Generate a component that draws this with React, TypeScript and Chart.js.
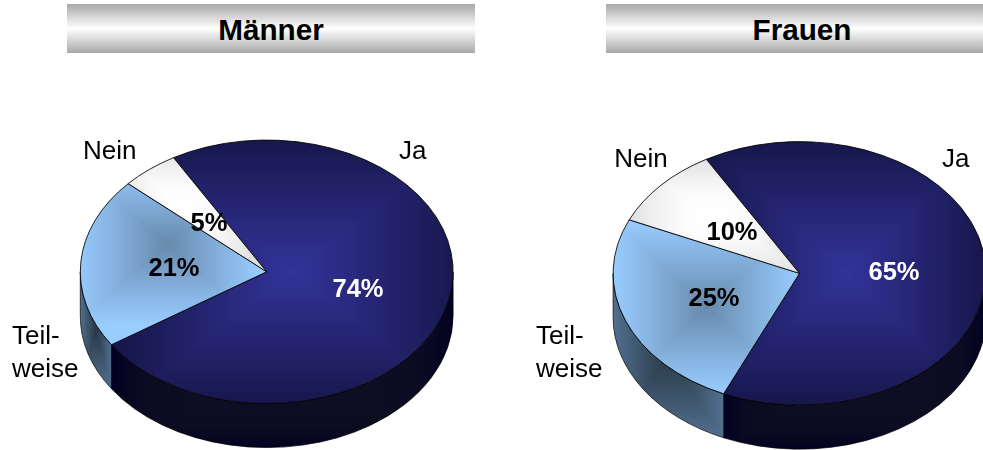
import React, { useEffect, useRef } from "react";
import { Chart, registerables } from "chart.js";

Chart.register(...registerables);

const categories = ["Ja", "Teilweise", "Nein"];
const maennerValues = [74, 21, 5];
const frauenValues = [65, 25, 10];
const maennerTitle = "Männer";
const frauenTitle = "Frauen";

const W = 983;
const H = 450;
const FONT = '"Liberation Sans", Arial, sans-serif';
const K = 0.707;
const RADIUS = 186.4;
const DEPTH = 44;
const ROTATION = -30;

const topCenter = ["#333399", "#6688AA", "#FFFFFF"];
const topEdge = ["#17174C", "#99CCFF", "#DFDFDF"];
const topCurve = [1, 0.9, 2];
const wallCenter = ["#0E0E22", "#2A3846", "#888888"];
const wallEdge = ["#000022", "#50708F", "#777777"];
const wallCurve = [6, 1, 1];
const valueColors = ["#FFFFFF", "#000000", "#000000"];

type Box = { x0: number; y0: number; x1: number; y1: number };
type TextPos = { x: number; y: number; align?: CanvasTextAlign };
type Shift = [number, number];

const hex = (c: string) => [1, 3, 5].map((i) => parseInt(c.slice(i, i + 2), 16));

function rectPattern(
  ctx: CanvasRenderingContext2D,
  b: Box,
  center: string,
  edge: string,
  curve = 1,
  shift: Shift = [0, 0],
) {
  const off = document.createElement("canvas");
  off.width = W;
  off.height = H;
  const octx = off.getContext("2d")!;
  const x0 = Math.max(0, Math.floor(b.x0) - 2);
  const y0 = Math.max(0, Math.floor(b.y0) - 2);
  const x1 = Math.min(W, Math.ceil(b.x1) + 2);
  const y1 = Math.min(H, Math.ceil(b.y1) + 2);
  const img = octx.createImageData(x1 - x0, y1 - y0);
  const cx = (b.x0 + b.x1) / 2 + shift[0];
  const cy = (b.y0 + b.y1) / 2 + shift[1];
  const hw = Math.max(1, (b.x1 - b.x0) / 2);
  const hh = Math.max(1, (b.y1 - b.y0) / 2);
  const c0 = hex(center);
  const c1 = hex(edge);
  for (let y = y0; y < y1; y++) {
    for (let x = x0; x < x1; x++) {
      const d = Math.min(1, Math.max(Math.abs(x + 0.5 - cx) / hw, Math.abs(y + 0.5 - cy) / hh));
      const t = Math.pow(d, curve);
      const i = ((y - y0) * (x1 - x0) + (x - x0)) * 4;
      img.data[i] = c0[0] + (c1[0] - c0[0]) * t;
      img.data[i + 1] = c0[1] + (c1[1] - c0[1]) * t;
      img.data[i + 2] = c0[2] + (c1[2] - c0[2]) * t;
      img.data[i + 3] = 255;
    }
  }
  octx.putImageData(img, x0, y0);
  return ctx.createPattern(off, "no-repeat")!;
}

function extremes(a0: number, a1: number) {
  const out = [a0, a1];
  for (let n = -4; n <= 8; n++) {
    const a = (n * Math.PI) / 2;
    if (a > a0 && a < a1) out.push(a);
  }
  return out;
}

function makePlugin(nameLabels: (TextPos & { text: string })[], valuePos: TextPos[], shifts: Shift[]) {
  return {
    id: "tiltedPie",
    beforeDatasetsDraw(chart: any) {
      const ctx: CanvasRenderingContext2D = chart.ctx;
      const arcs = chart.getDatasetMeta(0).data;
      const { x: cx, y: cy } = arcs[0];
      const r = arcs[0].outerRadius;
      const ry = r * K;
      // side walls, front half only
      arcs.forEach((arc: any, i: number) => {
        const a0 = Math.max(arc.startAngle, 0);
        const a1 = Math.min(arc.endAngle, Math.PI);
        if (a1 <= a0) return;
        const pts = extremes(a0, a1).map((a) => [cx + r * Math.cos(a), cy + ry * Math.sin(a)]);
        const xs = pts.map((p) => p[0]);
        const ys = pts.map((p) => p[1]);
        const box = {
          x0: Math.min(...xs),
          x1: Math.max(...xs),
          y0: Math.min(...ys),
          y1: Math.max(...ys) + DEPTH,
        };
        ctx.save();
        ctx.beginPath();
        ctx.ellipse(cx, cy, r, ry, 0, a0, a1);
        ctx.ellipse(cx, cy + DEPTH, r, ry, 0, a1, a0, true);
        ctx.closePath();
        ctx.fillStyle = rectPattern(ctx, box, wallCenter[i], wallEdge[i], wallCurve[i]);
        ctx.fill();
        ctx.strokeStyle = "#000000";
        ctx.lineWidth = 0.7;
        ctx.stroke();
        ctx.restore();
      });
      // top surface fill
      const inverse = new DOMMatrix().translate(cx, cy).scale(1, 1 / K).translate(-cx, -cy);
      arcs.forEach((arc: any, i: number) => {
        const pts = extremes(arc.startAngle, arc.endAngle).map((a) => [
          cx + r * Math.cos(a),
          cy + ry * Math.sin(a),
        ]);
        pts.push([cx, cy]);
        const xs = pts.map((p) => p[0]);
        const ys = pts.map((p) => p[1]);
        const box = {
          x0: Math.min(...xs),
          x1: Math.max(...xs),
          y0: Math.min(...ys),
          y1: Math.max(...ys),
        };
        const pattern = rectPattern(ctx, box, topCenter[i], topEdge[i], topCurve[i], shifts[i]);
        pattern.setTransform(inverse);
        arc.options = { ...arc.options, backgroundColor: pattern };
      });
      ctx.save();
      ctx.translate(cx, cy);
      ctx.scale(1, K);
      ctx.translate(-cx, -cy);
    },
    afterDatasetsDraw(chart: any) {
      const ctx: CanvasRenderingContext2D = chart.ctx;
      ctx.restore();
      const values: number[] = chart.data.datasets[0].data;
      ctx.save();
      ctx.textBaseline = "middle";
      ctx.textAlign = "center";
      ctx.font = `bold 25.5px ${FONT}`;
      values.forEach((v, i) => {
        ctx.fillStyle = valueColors[i];
        ctx.fillText(`${v}%`, valuePos[i].x, valuePos[i].y);
      });
      ctx.font = `26px ${FONT}`;
      ctx.fillStyle = "#000000";
      nameLabels.forEach((l) => {
        ctx.textAlign = l.align ?? "center";
        ctx.fillText(l.text, l.x, l.y);
      });
      ctx.restore();
    },
  };
}

function makeChart(
  canvas: HTMLCanvasElement,
  values: number[],
  center: { x: number; y: number },
  names: (TextPos & { text: string })[],
  valuePos: TextPos[],
  shifts: Shift[],
) {
  // chart area is symmetric round the wanted pie centre
  const halfW = Math.min(center.x, W - center.x);
  const padding = {
    left: center.x - halfW,
    right: W - center.x - halfW,
    top: center.y - (H - center.y),
    bottom: 0,
  };
  return new Chart(canvas, {
    type: "pie",
    data: {
      labels: categories,
      datasets: [
        {
          data: values,
          backgroundColor: topEdge,
          borderColor: "#000000",
          borderWidth: 1,
          radius: RADIUS,
          clip: false,
        } as any,
      ],
    },
    options: {
      responsive: false,
      animation: false,
      rotation: ROTATION,
      layout: { padding },
      events: [],
      plugins: { legend: { display: false }, tooltip: { enabled: false }, title: { display: false } },
    },
    plugins: [makePlugin(names, valuePos, shifts) as any],
  });
}

const canvasStyle: React.CSSProperties = { position: "absolute", left: 0, top: 0, display: "block" };

function band(left: number, width: number): React.CSSProperties {
  return {
    position: "absolute",
    left,
    top: 4,
    width,
    height: 49,
    lineHeight: "52px",
    textAlign: "center",
    fontFamily: FONT,
    fontWeight: "bold",
    fontSize: 29.7,
    color: "#000",
    background: "linear-gradient(180deg,#A8A8A8 0%,#FFFFFF 50%,#A8A8A8 100%)",
  };
}

export default function App() {
  const a = useRef<HTMLCanvasElement>(null);
  const b = useRef<HTMLCanvasElement>(null);
  useEffect(() => {
    const c1 = makeChart(
      a.current!,
      maennerValues,
      { x: 266.7, y: 271.8 },
      [
        { text: "Nein", x: 109.7, y: 151.5 },
        { text: "Ja", x: 412.7, y: 151.5 },
        { text: "Teil-", x: 12, y: 336.5, align: "left" },
        { text: "weise", x: 12, y: 369.5, align: "left" },
      ],
      [
        { x: 358, y: 289.5 },
        { x: 174, y: 269 },
        { x: 209, y: 224 },
      ],
      [
        [10, 0],
        [-6, -20],
        [-14, -8],
      ],
    );
    const c2 = makeChart(
      b.current!,
      frauenValues,
      { x: 799.5, y: 273.4 },
      [
        { text: "Nein", x: 641, y: 159.5 },
        { text: "Ja", x: 955.7, y: 159.5 },
        { text: "Teil-", x: 536, y: 336.5, align: "left" },
        { text: "weise", x: 536, y: 369.5, align: "left" },
      ],
      [
        { x: 894, y: 273 },
        { x: 714, y: 299 },
        { x: 732, y: 233 },
      ],
      [
        [0, 0],
        [0, 0],
        [0, 0],
      ],
    );
    return () => {
      c1.destroy();
      c2.destroy();
    };
  }, []);
  return (
    <div style={{ position: "fixed", left: 0, top: 0, width: W, height: H, overflow: "hidden", background: "#fff" }}>
      <div style={band(67, 408)}>{maennerTitle}</div>
      <div style={band(606, 392)}>{frauenTitle}</div>
      <canvas ref={a} width={W} height={H} style={canvasStyle} />
      <canvas ref={b} width={W} height={H} style={canvasStyle} />
    </div>
  );
}
